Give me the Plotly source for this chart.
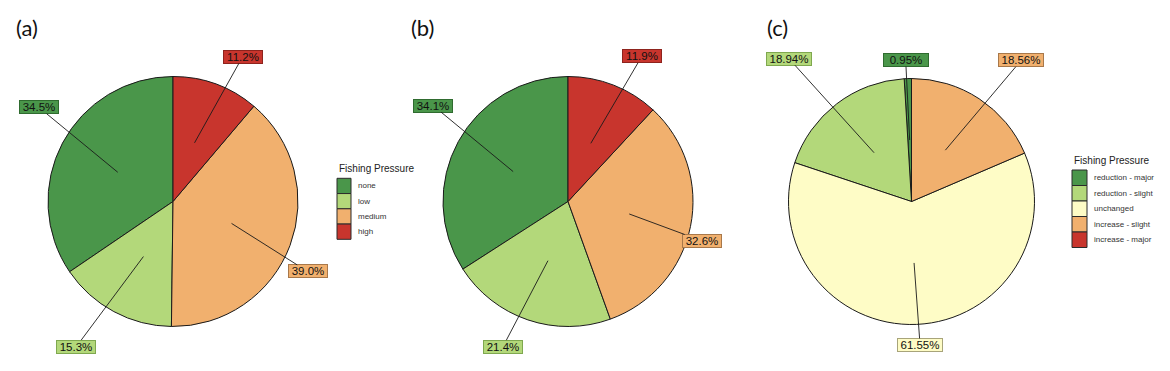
import math
import plotly.graph_objects as go

W, H = 1170, 371

# ---------------- data ----------------
cats_ab = ["none", "low", "medium", "high"]
vals_a = [34.5, 15.3, 39.0, 11.2]
vals_b = [34.1, 21.4, 32.6, 11.9]
cats_c = ["reduction - major", "reduction - slight", "unchanged",
          "increase - slight", "increase - major"]
vals_c = [0.95, 18.94, 61.55, 18.56, 0.0]
panel_tags = ["(a)", "(b)", "(c)"]
legend_title = "Fishing Pressure"

# ---------------- styles ----------------
cols_ab = ["#4A964A", "#B3D87A", "#F1B06E", "#C8352D"]
cols_c = ["#4A964A", "#B3D87A", "#FEFCC6", "#F1B06E", "#C8352D"]
border_ab = ["#2F6B2F", "#7FA84F", "#A8784A", "#8E231D"]
border_c = ["#2F6B2F", "#7FA84F", "#A8A47A", "#A8784A", "#8E231D"]

# pie geometry in pixels (centre x, centre y, radius)
geo = [(173, 201.5, 125), (568, 201.5, 125), (911.5, 201.5, 123)]
# label box offsets (pixels) from inner anchor point, mimicking a repel layout
offs_a = [(-79, -65), (-67, 90), (76, 48), (48, -86)]
offs_b = [(-80, -66), (-45, 86), (73, 27), (51, -87)]
offs_c = [(-4, -80), (-85, -94), (6, 82), (76, -90), None]
tag_pos = [(27, 27), (422, 27), (777, 27)]
# legend placement in pixels: (left x, title centre y, first swatch top, step, swatch w)
legend_geo = [(337, 168, 178.3, 15.25, 14), None, (1072, 160.5, 170, 15.5, 15)]

LABEL_FONT = "Liberation Sans, Arial, sans-serif"

fig = go.Figure()
panels = [
    (cats_ab, vals_a, cols_ab, border_ab, offs_a, 1),
    (cats_ab, vals_b, cols_ab, border_ab, offs_b, 1),
    (cats_c, vals_c, cols_c, border_c, offs_c, 2),
]

annotations = []
shapes = []
for i, (cats, vals, cols, bcols, offs, dec) in enumerate(panels):
    cx, cy, R = geo[i]
    total = sum(vals)
    dom_x = [(cx - R) / W, (cx + R) / W]
    dom_y = [1 - (cy + R) / H, 1 - (cy - R) / H]
    fig.add_trace(go.Pie(
        labels=cats, values=vals, sort=False, direction="counterclockwise",
        # plotly ends the first slice at the rotation angle when counterclockwise;
        # shift so the first slice starts at 12 o'clock
        rotation=-360 * vals[0] / total,
        textinfo="none", hoverinfo="label+percent", showlegend=False,
        marker=dict(colors=cols, line=dict(color="#1a1a1a", width=1)),
        domain=dict(x=dom_x, y=dom_y),
    ))

    cum = 0.0
    for j, v in enumerate(vals):
        if v <= 0 or offs[j] is None:
            cum += v
            continue
        theta = math.radians(90 + 360 * (cum + v / 2) / total)
        px = cx + 0.5 * R * math.cos(theta)
        py = cy - 0.5 * R * math.sin(theta)
        cum += v
        annotations.append(dict(
            x=px / W, y=1 - py / H, xref="paper", yref="paper",
            ax=offs[j][0], ay=offs[j][1], axref="pixel", ayref="pixel",
            text=f"{v:.{dec}f}%", showarrow=True, arrowhead=0,
            arrowwidth=0.9, arrowcolor="#1a1a1a", standoff=0,
            width=38 if dec == 1 else 44, height=12, align="center",
            font=dict(family=LABEL_FONT, size=11.5, color="#111111"),
            bgcolor=cols[j], bordercolor=bcols[j], borderwidth=1, borderpad=0,
        ))

    lg = legend_geo[i]
    if lg is not None:
        lx, ty, top, step, sw = lg
        annotations.append(dict(
            x=lx / W, y=1 - ty / H, xref="paper", yref="paper",
            text=legend_title, showarrow=False, xanchor="left", yanchor="middle",
            font=dict(family=LABEL_FONT, size=10, color="#222222"),
        ))
        for j, c in enumerate(cats):
            y0 = top + j * step
            shapes.append(dict(
                type="rect", xref="paper", yref="paper",
                x0=lx / W, x1=(lx + sw) / W,
                y0=1 - (y0 + step) / H, y1=1 - y0 / H,
                fillcolor=cols[j], line=dict(color="#2a2a2a", width=1),
            ))
            annotations.append(dict(
                x=(lx + sw + 5) / W, y=1 - (y0 + step / 2) / H,
                xref="paper", yref="paper", text=c, showarrow=False,
                xanchor="left", yanchor="middle",
                font=dict(family=LABEL_FONT, size=8, color="#333333"),
            ))

for t, (x, y) in zip(panel_tags, tag_pos):
    annotations.append(dict(
        x=x / W, y=1 - y / H, xref="paper", yref="paper", text=t,
        showarrow=False, xanchor="center", yanchor="middle",
        font=dict(family="Lato, Open Sans, sans-serif", size=22, color="#111111"),
    ))

fig.update_layout(
    width=W, height=H, margin=dict(l=0, r=0, t=0, b=0),
    paper_bgcolor="white", plot_bgcolor="white", showlegend=False,
    annotations=annotations, shapes=shapes,
)

fig.write_html(
    "out.html",
    config={"displayModeBar": False},
    post_script="document.body.style.margin='0';document.body.style.padding='0';"
                "document.body.style.overflow='hidden';",
)
